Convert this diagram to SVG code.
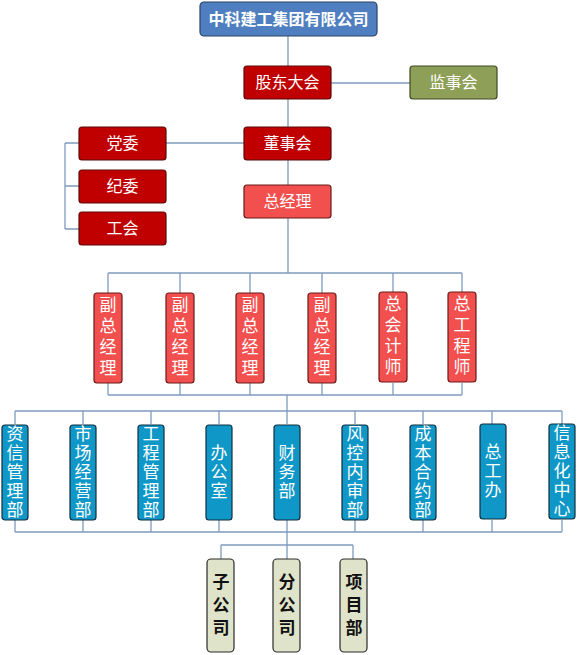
<svg xmlns="http://www.w3.org/2000/svg" width="577" height="655" viewBox="0 0 577 655">
<style>
.ln{stroke:#7f9bbd;stroke-width:1.3;fill:none}
.bx{stroke-width:1.2}
.top{fill:#4f7fc0;stroke:#2b4263}
.red{fill:#c00000;stroke:#5a0a0a}
.lred{fill:#f24f4f;stroke:#6b1a1a}
.grn{fill:#8e9f58;stroke:#3e4a22}
.blu{fill:#0f97c7;stroke:#0f2f40}
.gry{fill:#dfe3c9;stroke:#2a2a2a}
text{font-family:"Liberation Serif","Noto Sans CJK SC",serif;font-size:16px;text-anchor:middle;fill:#fff}
.t0{font-family:"Liberation Sans","Noto Sans CJK SC",sans-serif;font-weight:bold;font-size:16px}
.v{font-size:17px}
.dk{fill:#111;font-weight:bold}
</style>
<g id="connectors">
<path class="ln" d="M288 36V66M288 99V127M331 83H410M288 160V185M166 143H244M65 143V229M65 143H79M65 186H79M65 229H79"/>
<path class="ln" d="M288 218V273M108 273H462M108 273V293M180 273V293M250 273V293M322 273V293M393 273V293M462 273V293"/>
<path class="ln" d="M108 383V395M180 383V395M250 383V395M322 383V395M393 383V395M462 383V395M108 395H462M287 395V411"/>
<path class="ln" d="M15 411H562M15 411V424M83 411V424M151 411V424M219 411V424M287 411V424M355 411V424M423 411V424M492 411V424M562 411V424"/>
<path class="ln" d="M15 520V532M83 520V532M151 520V532M219 520V532M287 520V532M355 520V532M423 520V532M492 520V532M562 520V532M15 532H562"/>
<path class="ln" d="M287 532V545M221 545H353M221 545V559M287 545V559M353 545V559"/>
</g>
<g id="n_top"><rect class="bx top" x="200" y="2" width="177" height="34" rx="4"/><text class="t0" x="288.5" y="25">中科建工集团有限公司</text></g>
<g id="n_gd"><rect class="bx red" x="244" y="66" width="87" height="33" rx="3"/><text x="287.5" y="88">股东大会</text></g>
<g id="n_js"><rect class="bx grn" x="410" y="66" width="87" height="33" rx="3"/><text x="453.5" y="88">监事会</text></g>
<g id="n_ds"><rect class="bx red" x="244" y="127" width="87" height="33" rx="3"/><text x="287.5" y="149">董事会</text></g>
<g id="n_dw"><rect class="bx red" x="79" y="127" width="87" height="33" rx="3"/><text x="122.5" y="149">党委</text></g>
<g id="n_jw"><rect class="bx red" x="79" y="170" width="87" height="33" rx="3"/><text x="122.5" y="192">纪委</text></g>
<g id="n_gh"><rect class="bx red" x="79" y="212" width="87" height="33" rx="3"/><text x="122.5" y="234">工会</text></g>
<g id="n_zjl"><rect class="bx lred" x="244" y="185" width="87" height="33" rx="3"/><text x="287.5" y="207">总经理</text></g>
<g id="n_f1"><rect class="bx lred" x="94" y="293" width="28" height="90" rx="3"/><text class="v" x="108" y="311">副</text><text class="v" x="108" y="332">总</text><text class="v" x="108" y="353">经</text><text class="v" x="108" y="374">理</text></g>
<g id="n_f2"><rect class="bx lred" x="166" y="293" width="28" height="90" rx="3"/><text class="v" x="180" y="311">副</text><text class="v" x="180" y="332">总</text><text class="v" x="180" y="353">经</text><text class="v" x="180" y="374">理</text></g>
<g id="n_f3"><rect class="bx lred" x="236" y="293" width="28" height="90" rx="3"/><text class="v" x="250" y="311">副</text><text class="v" x="250" y="332">总</text><text class="v" x="250" y="353">经</text><text class="v" x="250" y="374">理</text></g>
<g id="n_f4"><rect class="bx lred" x="308" y="293" width="28" height="90" rx="3"/><text class="v" x="322" y="311">副</text><text class="v" x="322" y="332">总</text><text class="v" x="322" y="353">经</text><text class="v" x="322" y="374">理</text></g>
<g id="n_zkj"><rect class="bx lred" x="379" y="292" width="28" height="90" rx="3"/><text class="v" x="393" y="310">总</text><text class="v" x="393" y="331">会</text><text class="v" x="393" y="352">计</text><text class="v" x="393" y="373">师</text></g>
<g id="n_zgc"><rect class="bx lred" x="448" y="292" width="28" height="90" rx="3"/><text class="v" x="462" y="310">总</text><text class="v" x="462" y="331">工</text><text class="v" x="462" y="352">程</text><text class="v" x="462" y="373">师</text></g>
<g id="n_zx"><rect class="bx blu" x="2" y="425" width="26" height="95" rx="3"/><text class="v" x="15" y="440">资</text><text class="v" x="15" y="459">信</text><text class="v" x="15" y="478">管</text><text class="v" x="15" y="497">理</text><text class="v" x="15" y="516">部</text></g>
<g id="n_sc"><rect class="bx blu" x="70" y="425" width="26" height="95" rx="3"/><text class="v" x="83" y="440">市</text><text class="v" x="83" y="459">场</text><text class="v" x="83" y="478">经</text><text class="v" x="83" y="497">营</text><text class="v" x="83" y="516">部</text></g>
<g id="n_gc"><rect class="bx blu" x="138" y="425" width="26" height="95" rx="3"/><text class="v" x="151" y="440">工</text><text class="v" x="151" y="459">程</text><text class="v" x="151" y="478">管</text><text class="v" x="151" y="497">理</text><text class="v" x="151" y="516">部</text></g>
<g id="n_bgs"><rect class="bx blu" x="206" y="425" width="26" height="95" rx="3"/><text class="v" x="219" y="459">办</text><text class="v" x="219" y="478">公</text><text class="v" x="219" y="497">室</text></g>
<g id="n_cw"><rect class="bx blu" x="274" y="425" width="26" height="95" rx="3"/><text class="v" x="287" y="459">财</text><text class="v" x="287" y="478">务</text><text class="v" x="287" y="497">部</text></g>
<g id="n_fk"><rect class="bx blu" x="342" y="425" width="26" height="95" rx="3"/><text class="v" x="355" y="440">风</text><text class="v" x="355" y="459">控</text><text class="v" x="355" y="478">内</text><text class="v" x="355" y="497">审</text><text class="v" x="355" y="516">部</text></g>
<g id="n_cb"><rect class="bx blu" x="410" y="425" width="26" height="95" rx="3"/><text class="v" x="423" y="440">成</text><text class="v" x="423" y="459">本</text><text class="v" x="423" y="478">合</text><text class="v" x="423" y="497">约</text><text class="v" x="423" y="516">部</text></g>
<g id="n_zgb"><rect class="bx blu" x="480" y="424" width="26" height="95" rx="3"/><text class="v" x="493" y="458">总</text><text class="v" x="493" y="477">工</text><text class="v" x="493" y="496">办</text></g>
<g id="n_xx"><rect class="bx blu" x="549" y="424" width="26" height="95" rx="3"/><text class="v" x="562" y="439">信</text><text class="v" x="562" y="458">息</text><text class="v" x="562" y="477">化</text><text class="v" x="562" y="496">中</text><text class="v" x="562" y="515">心</text></g>
<g id="n_zgs"><rect class="bx gry" x="207" y="559" width="27" height="93" rx="4"/><text class="v dk" x="221" y="588">子</text><text class="v dk" x="221" y="611">公</text><text class="v dk" x="221" y="634">司</text></g>
<g id="n_fgs"><rect class="bx gry" x="273" y="559" width="27" height="93" rx="4"/><text class="v dk" x="287" y="588">分</text><text class="v dk" x="287" y="611">公</text><text class="v dk" x="287" y="634">司</text></g>
<g id="n_xmb"><rect class="bx gry" x="340" y="559" width="27" height="93" rx="4"/><text class="v dk" x="354" y="588">项</text><text class="v dk" x="354" y="611">目</text><text class="v dk" x="354" y="634">部</text></g>
</svg>
